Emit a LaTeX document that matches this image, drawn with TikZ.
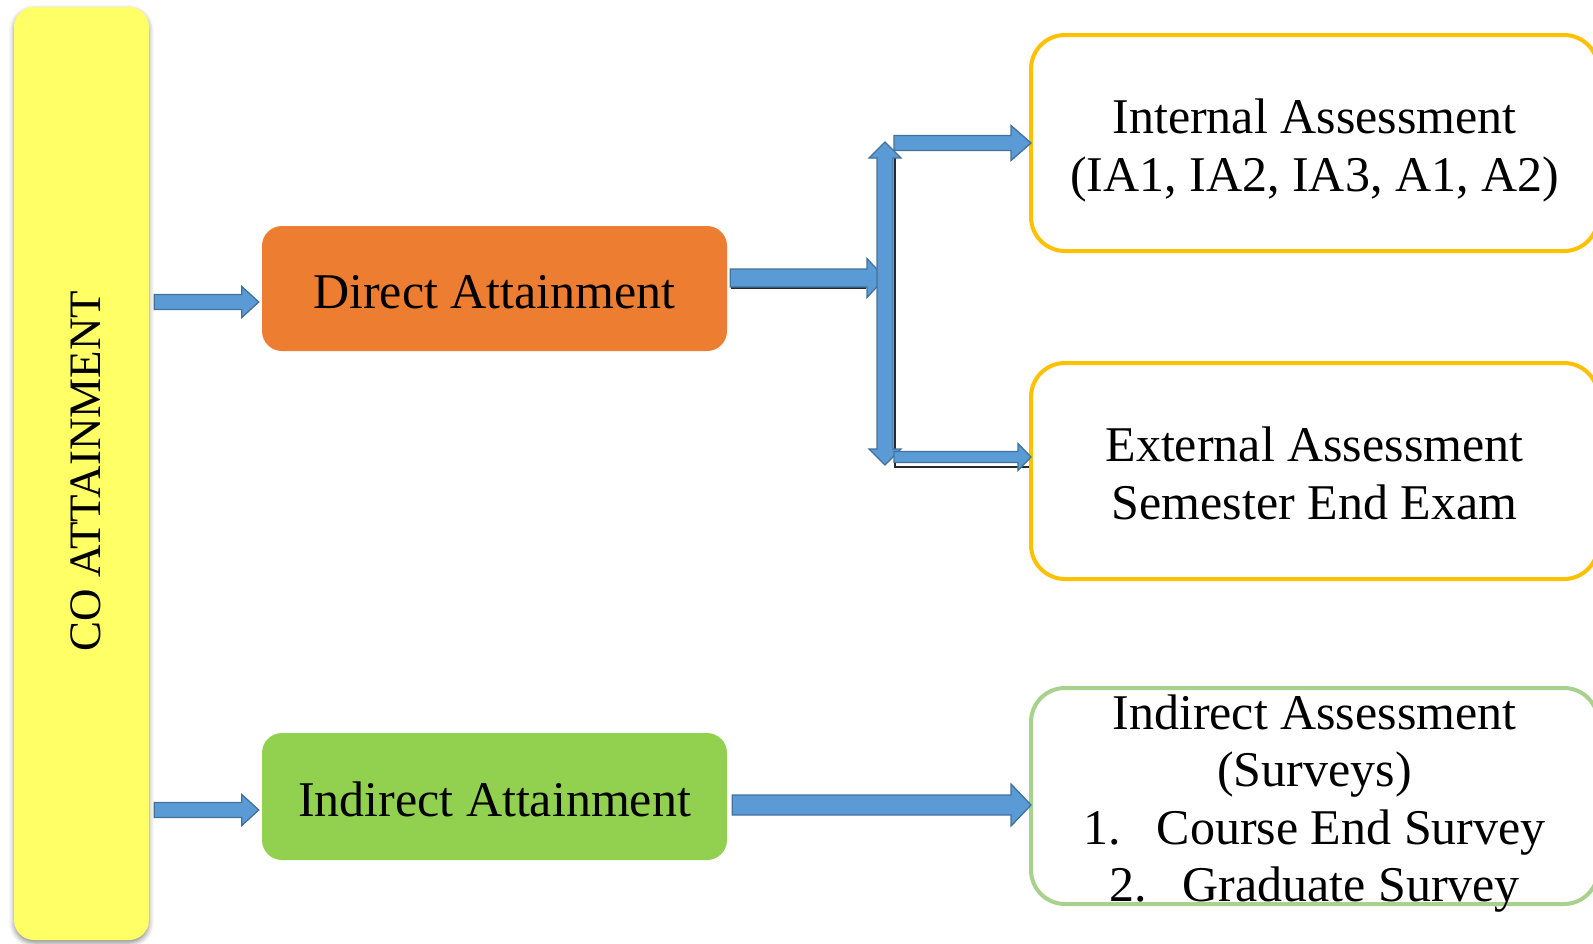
\documentclass[tikz,border=0pt]{standalone}
\usepackage{fontspec}
\setmainfont{Liberation Serif}
\usetikzlibrary{calc,shadows.blur}

\definecolor{barYellow}{HTML}{FFFF66}
\definecolor{directOrange}{HTML}{ED7D31}
\definecolor{indirectGreen}{HTML}{92D050}
\definecolor{goldLine}{HTML}{FFC000}
\definecolor{paleGreenLine}{HTML}{A9D18E}
\definecolor{arrowFill}{HTML}{5B9BD5}
\definecolor{arrowEdge}{HTML}{41719C}
\definecolor{connDark}{HTML}{262B33}

\tikzset{
  colbar/.style={fill=barYellow, draw=none, rounded corners=20pt,
    minimum width=135pt, minimum height=933pt, inner sep=0pt,
    blur shadow={shadow xshift=0pt, shadow yshift=-3pt, shadow blur radius=5pt, shadow opacity=45}},
  attain/.style={draw=none, rounded corners=20pt, minimum width=465pt,
    minimum height=125pt, inner sep=0pt,
    font=\fontsize{50}{58}\selectfont},
  assess/.style={fill=white, line width=4pt, rounded corners=34pt, outer sep=0pt,
    minimum width=567pt, minimum height=216pt, inner sep=0pt,
    font=\fontsize{50}{57.5}\selectfont},
  blockarrow/.style={fill=arrowFill, draw=arrowEdge, line width=1.3pt, line join=miter},
  elbow/.style={draw=connDark, line width=1.6pt}
}

% one line of text with its baseline at #1 from the node centre
\newcommand\boxline[2]{\raisebox{#1}[0pt][0pt]{#2}}
% centred lines of box text, shifted by #1 from the node centre
\newcommand\boxlines[2]{\raisebox{#1}[0pt][0pt]{\begin{tabular}{@{}c@{}}#2\end{tabular}}}

% horizontal block arrow: #1 start, #2 end (only its x is used),
% #3 shaft half width, #4 head half width, #5 head length
\newcommand\hblockarrow[5]{%
  \draw[blockarrow] let \p1=(#1), \p2=(#2) in
    (\x1,\y1+#3) -- (\x2-#5,\y1+#3) -- (\x2-#5,\y1+#4) -- (\x2,\y1)
    -- (\x2-#5,\y1-#4) -- (\x2-#5,\y1-#3) -- (\x1,\y1-#3) -- cycle;}

\begin{document}
\begin{tikzpicture}[x=1pt,y=-1pt]
\useasboundingbox (0,0) rectangle (1593,943);
\begin{scope}
\clip (0,0) rectangle (1593,943);

% left column
\node[colbar] (bar) at (81.5,473.5) {};
\node[rotate=90, font=\fontsize{45}{50}\selectfont] (barlabel) at (86,471) {CO ATTAINMENT};

% attainment boxes
\node[attain, fill=directOrange] (direct) at (494.5,288.5) {\boxline{-19.5pt}{Direct Attainment}};
\node[attain, fill=indirectGreen, minimum height=127pt] (indirect) at (494.5,796.5) {\boxline{-19.5pt}{Indirect Attainment}};

% assessment boxes
\node[assess, draw=goldLine] (internal) at (1314.5,143)
  {\boxlines{-14pt}{Internal Assessment\\(IA1, IA2, IA3, A1, A2)}};
\node[assess, draw=goldLine] (external) at (1314.5,471)
  {\boxlines{-14pt}{External Assessment\\Semester End Exam}};
\node[assess, draw=paleGreenLine] (indassess) at (1314.5,796)
  {\boxlines{-14pt}{Indirect Assessment\\(Surveys)\\1.\hspace{36pt}Course End Survey\\2.\hspace{36pt}Graduate Survey}};

% junction points
\coordinate (jtop) at (885,142);
\coordinate (jbot) at (885,465);
\coordinate (jmid) at (885,278);

% thin elbow connector behind the branch arrows
\draw[elbow] (731,288) -- (866,288);
\draw[elbow] (895,157) -- (895,467) -- ($(external.west |- 0,467)+(-2,0)$);
\draw[elbow] (732,795.5) -- (880,795.5);

% arrows from the column to the attainment boxes
\hblockarrow{$(bar.east |- direct.west)+(5,13.5)$}{$(direct.west)+(-3,0)$}{7.5}{15.5}{17}
\hblockarrow{$(bar.east |- indirect.west)+(5,13.5)$}{$(indirect.west)+(-3,0)$}{7.5}{15.5}{17}

% direct attainment into the junction
\hblockarrow{$(direct.east)+(3,-10.5)$}{jmid}{9}{19.5}{18}

% vertical double arrow of the junction
\draw[blockarrow] (877,158) -- (869,158) -- (jtop) -- (901,158) -- (893,158)
  -- (893,449) -- (901,449) -- (jbot) -- (869,449) -- (877,449) -- cycle;

% branches to the assessments
\hblockarrow{$(jtop)+(9,1)$}{$(internal.west)$}{7.5}{17.5}{20}
\hblockarrow{$(external.west)+(-137,-14)$}{$(external.west)$}{5.5}{13.5}{13}

% indirect attainment to the indirect assessment
\hblockarrow{$(indirect.east)+(5,8.5)$}{$(indassess.west)$}{10}{21}{20}
\end{scope}
\end{tikzpicture}
\end{document}
